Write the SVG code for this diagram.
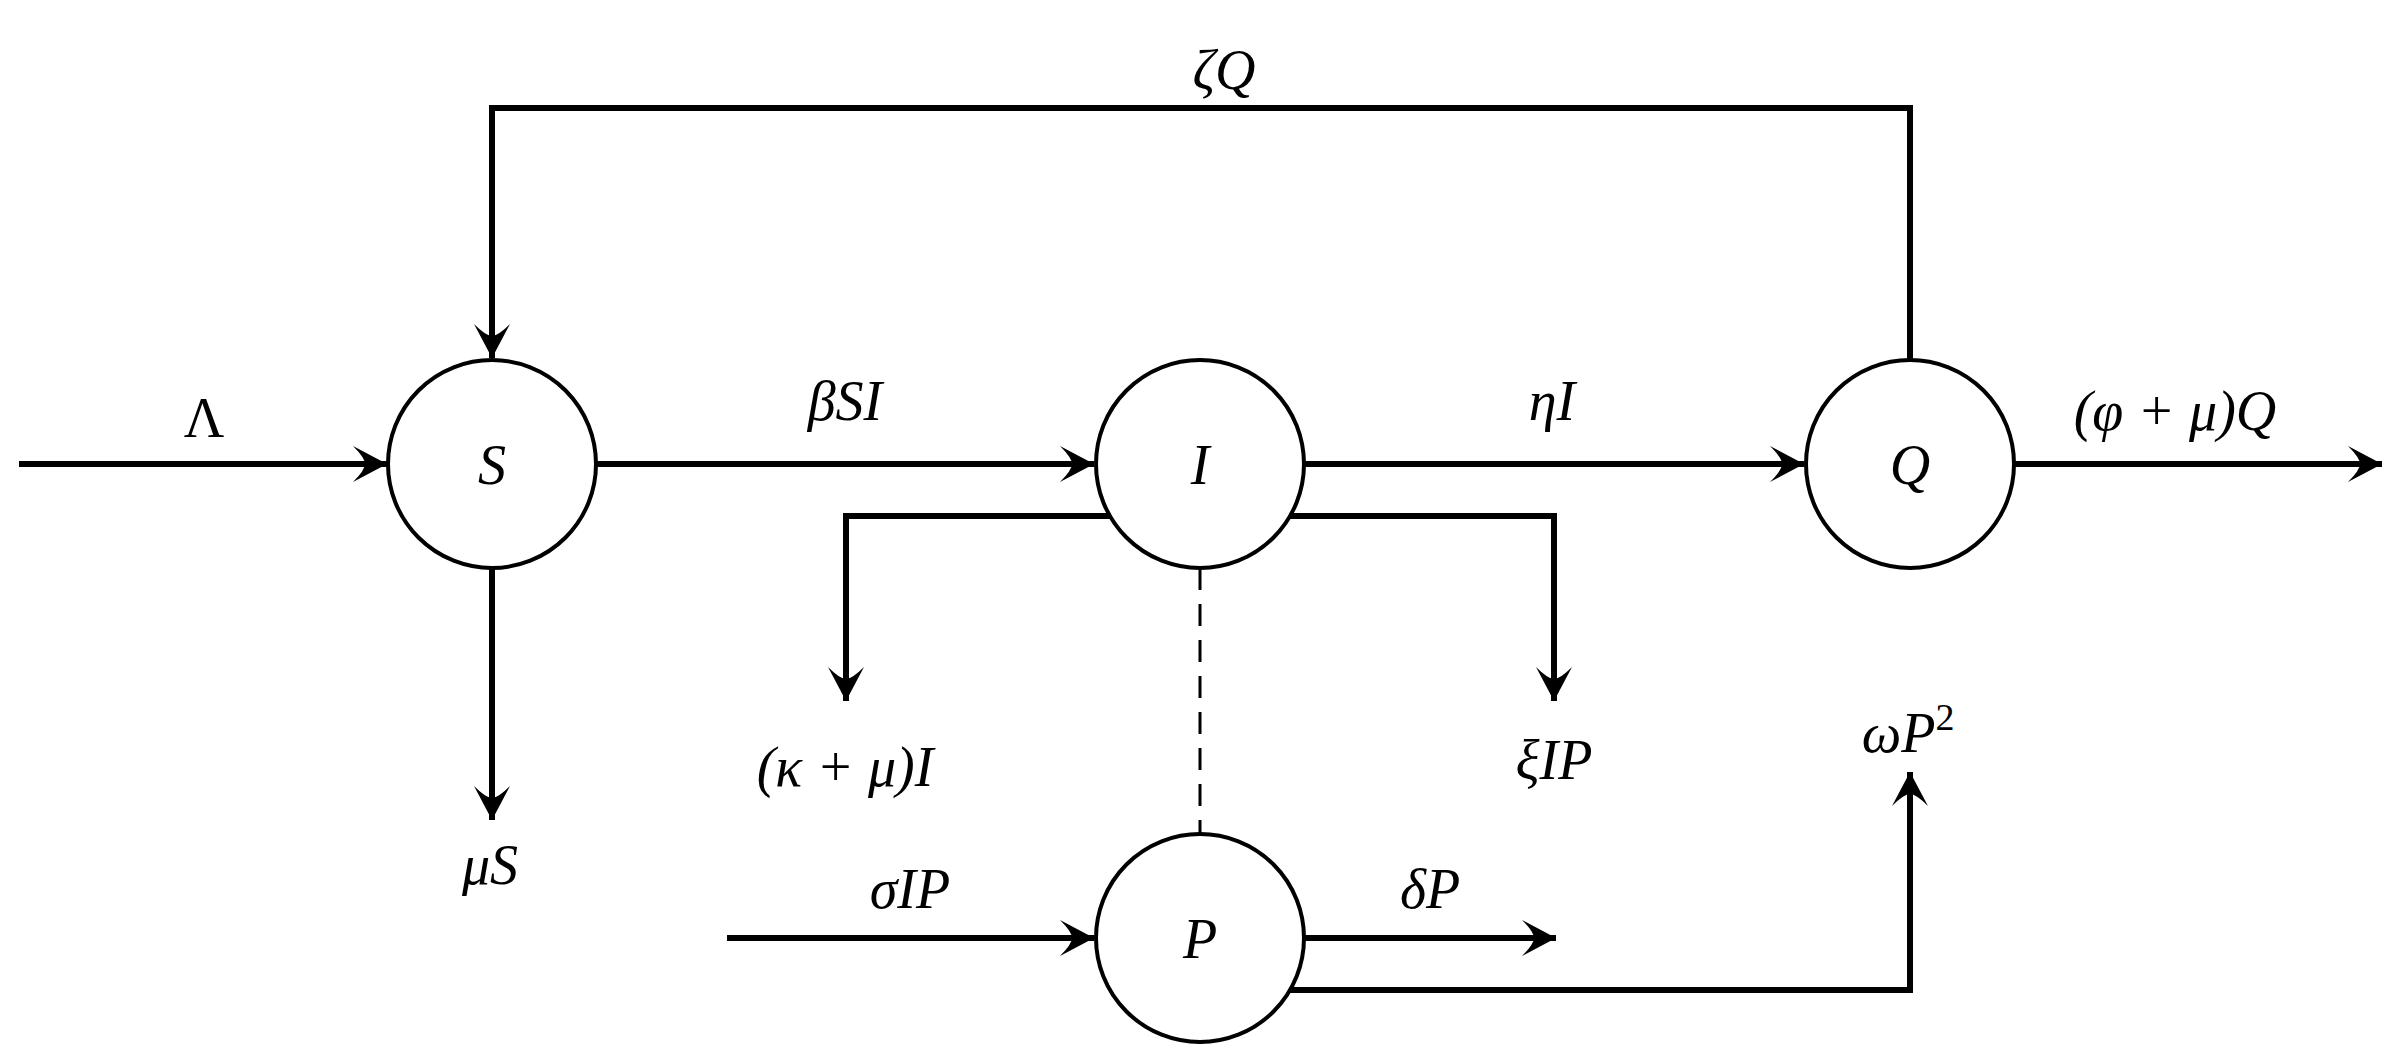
<svg xmlns="http://www.w3.org/2000/svg" width="2400" height="1059" viewBox="0 0 2400 1059">
<style>
.n{fill:#fff;stroke:#000;stroke-width:4}
.e{fill:none;stroke:#000;stroke-width:6}
.d{fill:none;stroke:#000;stroke-width:3;stroke-dasharray:22 14}
text{font-family:"Liberation Serif",serif;font-style:italic;font-size:56px;text-anchor:middle;fill:#000}
.up{font-style:normal}
</style>
<defs>
<marker id="a" markerUnits="userSpaceOnUse" markerWidth="40" markerHeight="40" viewBox="-36 -20 40 40" refX="0" refY="0" orient="auto">
<path d="M0,0 L-34,-18 Q-22,-6 -22,0 Q-22,6 -34,18 Z" fill="#000"/>
</marker>
</defs>
<rect width="2400" height="1059" fill="#fff"/>
<g id="connectors">
<path class="e" d="M19,464 H387" marker-end="url(#a)"/>
<path class="e" d="M1910,360 V108 H492 V358" marker-end="url(#a)"/>
<path class="e" d="M596,464 H1094" marker-end="url(#a)"/>
<path class="e" d="M1304,464 H1804" marker-end="url(#a)"/>
<path class="e" d="M2014,464 H2382" marker-end="url(#a)"/>
<path class="e" d="M492,568 V820" marker-end="url(#a)"/>
<path class="e" d="M1112,516 H846 V701" marker-end="url(#a)"/>
<path class="e" d="M1288,516 H1554 V701" marker-end="url(#a)"/>
<path class="d" d="M1200,568 V835"/>
<path class="e" d="M727,938 H1094" marker-end="url(#a)"/>
<path class="e" d="M1304,938 H1556" marker-end="url(#a)"/>
<path class="e" d="M1288,990 H1910 V772" marker-end="url(#a)"/>
<text x="1224" y="89">ζQ</text>
<text x="204" y="437" class="up">Λ</text>
<text x="845" y="420">βSI</text>
<text x="1552" y="420">ηI</text>
<text x="2175" y="430">(φ + μ)Q</text>
<text x="490" y="884">μS</text>
<text x="845" y="786">(κ + μ)I</text>
<text x="1554" y="779">ξIP</text>
<text x="1908" y="752">ωP<tspan dy="-22" font-size="38" font-style="normal">2</tspan></text>
<text x="910" y="908">σIP</text>
<text x="1430" y="908">δP</text>
</g>
<g id="S"><circle class="n" cx="492" cy="464" r="104"/><text x="492" y="484">S</text></g>
<g id="I"><circle class="n" cx="1200" cy="464" r="104"/><text x="1200" y="484">I</text></g>
<g id="Q"><circle class="n" cx="1910" cy="464" r="104"/><text x="1910" y="484">Q</text></g>
<g id="P"><circle class="n" cx="1200" cy="938" r="104"/><text x="1200" y="958">P</text></g>
</svg>
